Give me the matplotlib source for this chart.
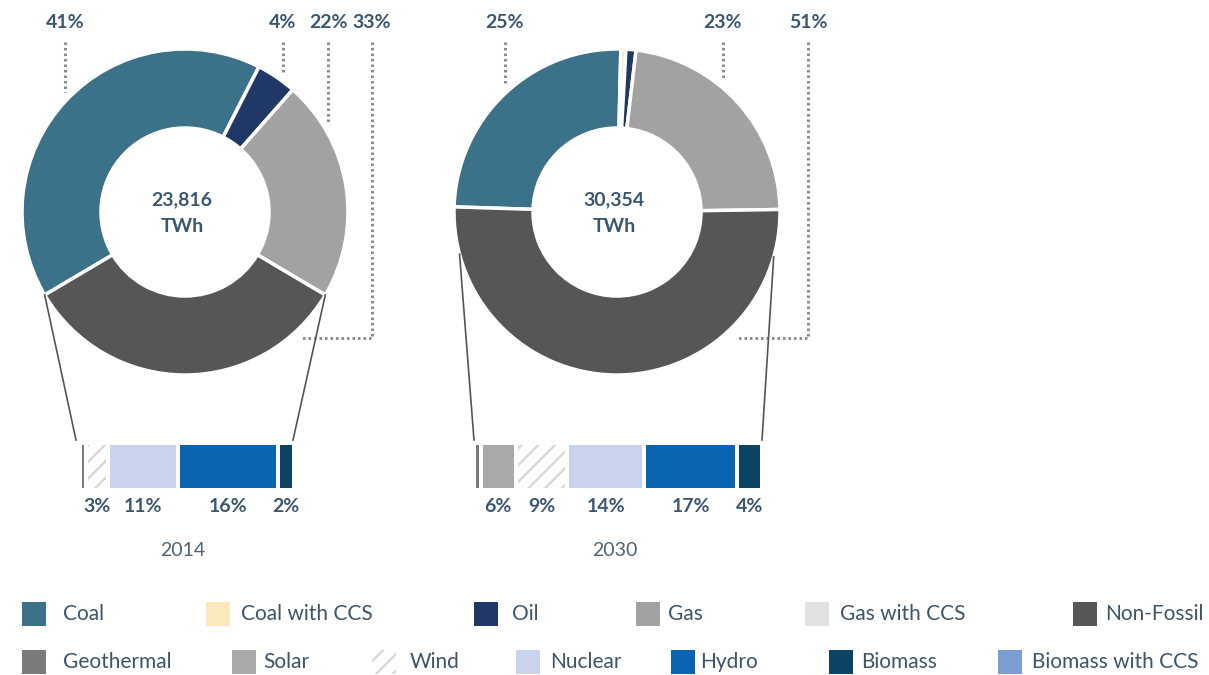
import numpy as np
import matplotlib
matplotlib.use("Agg")
import matplotlib.pyplot as plt
from matplotlib.patches import Rectangle

# ---- data -------------------------------------------------------------
years = ["2014", "2030"]
totals = ["23,816", "30,354"]

mix_categories = ["Coal", "Coal with CCS", "Oil", "Gas", "Non-Fossil"]
mix_2014 = [41, 0, 4, 22, 33]
mix_2030 = [25, 0.5, 1, 23, 51]

# percentages printed above each donut (category index, text)
top_labels_2014 = [(0, "41%"), (2, "4%"), (3, "22%"), (4, "33%")]
top_labels_2030 = [(0, "25%"), (3, "23%"), (4, "51%")]

nf_categories_2014 = ["Geothermal", "Wind", "Nuclear", "Hydro", "Biomass"]
nf_values_2014 = [0.3, 3, 11, 16, 2]
nf_labels_2014 = ["", "3%", "11%", "16%", "2%"]

nf_categories_2030 = ["Geothermal", "Solar", "Wind", "Nuclear", "Hydro", "Biomass"]
nf_values_2030 = [0.5, 6, 9, 14, 17, 4]
nf_labels_2030 = ["", "6%", "9%", "14%", "17%", "4%"]

legend_row1 = ["Coal", "Coal with CCS", "Oil", "Gas", "Gas with CCS", "Non-Fossil"]
legend_row2 = ["Geothermal", "Solar", "Wind", "Nuclear", "Hydro", "Biomass",
               "Biomass with CCS"]

# ---- styling ----------------------------------------------------------
colors = {
    "Coal": "#3b7189",
    "Coal with CCS": "#fbe8bd",
    "Oil": "#1f3866",
    "Gas": "#a2a2a2",
    "Gas with CCS": "#e2e2e2",
    "Non-Fossil": "#565656",
    "Geothermal": "#7a7a7a",
    "Solar": "#a9a9a9",
    "Wind": "#ffffff",
    "Nuclear": "#c9d4ec",
    "Hydro": "#0b64b0",
    "Biomass": "#0d4466",
    "Biomass with CCS": "#7c9fd3",
}
LABEL_C = "#3a5771"
YEAR_C = "#4f6272"
LEADER_C = "#8c8c8c"
FONT = ["Lato", "DejaVu Sans"]
plt.rcParams["font.family"] = FONT
plt.rcParams["hatch.linewidth"] = 1.6

W, H = 1209, 675
fig = plt.figure(figsize=(W / 100, H / 100), dpi=100)
ax = fig.add_axes([0, 0, 1, 1])


def py(y):
    """Convert a top-down pixel row to the axis' bottom-up coordinate."""
    return H - y


R_OUT, R_IN = 163, 84
charts = [
    dict(cx=185, cy=212, mix=mix_2014, tops=top_labels_2014,
         leaders=[65, 283, 328, 372], elbow=302,
         conn_angles=None,
         cats=nf_categories_2014, vals=nf_values_2014, labs=nf_labels_2014,
         bar_x0=82, bar_x1=292, bar_conn=(76, 293)),
    dict(cx=617, cy=212, mix=mix_2030, tops=top_labels_2030,
         leaders=[505, 723, 808], elbow=738,
         conn_angles=(-165, -16),
         cats=nf_categories_2030, vals=nf_values_2030, labs=nf_labels_2030,
         bar_x0=476, bar_x1=760, bar_conn=(474, 762)),
]

BAR_TOP, BAR_BOT = 445, 488
GAP = 4
DOTS = (0, (0.8, 1.0))

for i, ch in enumerate(charts):
    cx, cy = ch["cx"], ch["cy"]
    mix = ch["mix"]
    nf = mix[-1]
    start = 270 - nf * 1.8          # centre the non-fossil slice at the bottom
    ax.pie(
        mix, colors=[colors[c] for c in mix_categories],
        startangle=start, counterclock=False, radius=R_OUT,
        center=(cx, py(cy)), normalize=True,
        wedgeprops=dict(width=R_OUT - R_IN, edgecolor="white", linewidth=2.5),
    )

    # centre total
    ax.text(cx - 3, py(cy - 12), totals[i], ha="center", va="center",
            fontsize=14, fontweight="bold", color=LABEL_C)
    ax.text(cx - 3, py(cy + 14), "TWh", ha="center", va="center",
            fontsize=14, fontweight="bold", color=LABEL_C)

    # percentage labels with dotted leaders
    for (idx, txt), lx in zip(ch["tops"], ch["leaders"]):
        ax.text(lx, py(22), txt, ha="center", va="center", fontsize=14,
                fontweight="bold", color=LABEL_C)
        if idx == len(mix) - 1:
            # non-fossil leader runs down the side then turns inward
            ax.plot([lx, lx, ch["elbow"]], [py(42), py(338), py(338)],
                    color=LEADER_C, lw=2.2, linestyle=DOTS)
        else:
            dx = lx - cx
            arc_y = cy - np.sqrt(max(R_OUT ** 2 - dx ** 2, 0))
            ax.plot([lx, lx], [py(42), py(arc_y - 10)], color=LEADER_C,
                    lw=2.2, linestyle=DOTS)

    # stacked breakdown bar of non-fossil generation
    vals = np.array(ch["vals"], dtype=float)
    n = len(vals)
    span = ch["bar_x1"] - ch["bar_x0"] - GAP * (n - 1)
    scale = span / vals.sum()
    lefts = ch["bar_x0"] + scale * np.concatenate([[0], np.cumsum(vals)[:-1]]) \
        + GAP * np.arange(n)
    widths = vals * scale
    ymid = py((BAR_TOP + BAR_BOT) / 2)
    for cat, l, w, lab in zip(ch["cats"], lefts, widths, ch["labs"]):
        if cat == "Wind":
            ax.barh(ymid, w, left=l, height=BAR_BOT - BAR_TOP, color="white",
                    hatch="//", edgecolor="#d6d6d6", linewidth=0)
        else:
            ax.barh(ymid, max(w, 1.8), left=l, height=BAR_BOT - BAR_TOP,
                    color=colors[cat], linewidth=0)
        if lab:
            ax.text(l + w / 2, py(507), lab, ha="center", va="center",
                    fontsize=14, fontweight="bold", color=LABEL_C)

    # connector lines from the non-fossil slice to the bar
    if ch["conn_angles"] is None:
        a_right = start - 360 * (1 - nf / 100.0)
        a_left = a_right - nf * 3.6
    else:
        a_left, a_right = ch["conn_angles"]
    for ang, bx in zip((a_left, a_right), ch["bar_conn"]):
        sx = cx + R_OUT * np.cos(np.radians(ang))
        sy = cy - R_OUT * np.sin(np.radians(ang))
        ax.plot([sx, bx], [py(sy), py(440)], color="#555555", lw=1.2)

    ax.text(cx - 2, py(550), years[i], ha="center", va="center",
            fontsize=14, color=YEAR_C)

# ---- legend -----------------------------------------------------------
row1_x = [22, 206, 474, 636, 805, 1073]
row2_x = [22, 232, 372, 516, 671, 829, 998]
text_gap = [41, 35, 38, 32, 35, 32]
text_gap2 = [41, 31, 38, 34, 29, 32, 34]
SW = 24
for names, xs, gaps, yrow in ((legend_row1, row1_x, text_gap, 614),
                              (legend_row2, row2_x, text_gap2, 662)):
    for name, x, g in zip(names, xs, gaps):
        if name == "Wind":
            ax.add_patch(Rectangle((x, py(yrow + SW / 2)), SW, SW,
                                   facecolor="white", hatch="//",
                                   edgecolor="#d6d6d6", linewidth=0))
        else:
            ax.add_patch(Rectangle((x, py(yrow + SW / 2)), SW, SW,
                                   facecolor=colors[name], linewidth=0))
        ax.text(x + g, py(yrow), name, ha="left", va="center", fontsize=15,
                color="#3f5467")

ax.set_xlim(0, W)
ax.set_ylim(0, H)
ax.set_aspect("equal")
ax.axis("off")

fig.savefig("out.png", dpi=100, facecolor="white")
